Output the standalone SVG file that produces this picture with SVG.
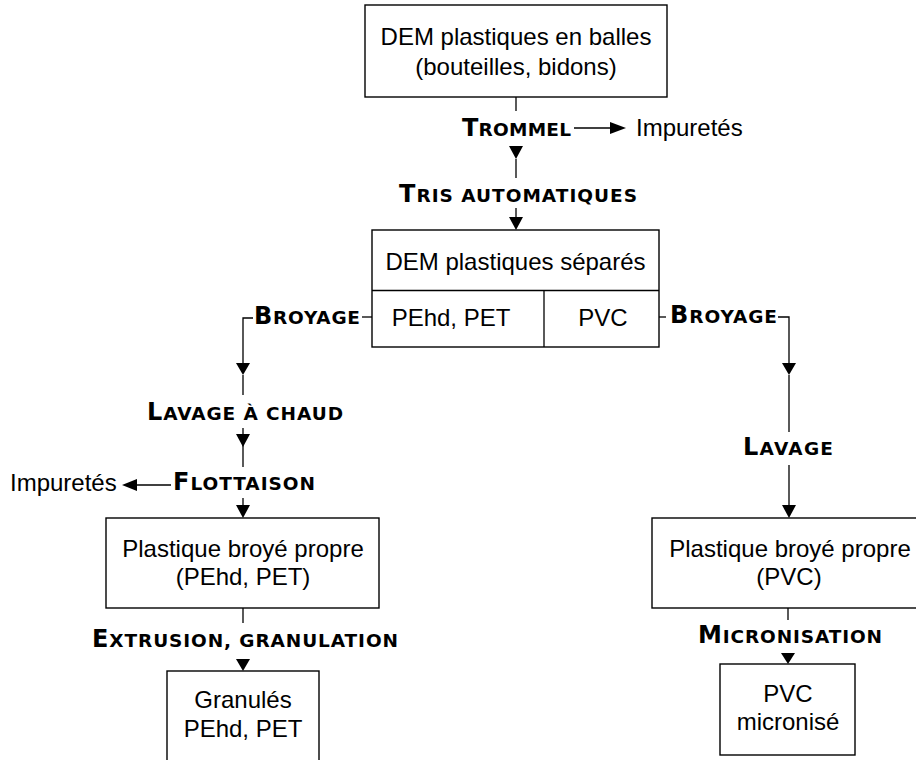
<svg xmlns="http://www.w3.org/2000/svg" width="916" height="760" viewBox="0 0 916 760">
<style>
.box{fill:#fff;stroke:#000;stroke-width:1.4}
.ln{fill:none;stroke:#000;stroke-width:1.3}
.ah{fill:#000;stroke:none}
.t{font-family:"Liberation Sans",Arial,sans-serif;font-size:24px;fill:#000;text-anchor:middle}
.ti{font-family:"Liberation Sans",Arial,sans-serif;font-size:24px;fill:#000}
.lb{font-family:"DejaVu Sans","Liberation Sans",sans-serif;font-weight:bold;fill:#000;font-size:18.5px}
.cap{font-size:24px}
</style>
<rect width="916" height="760" fill="#fff"/>
<g id="connectors">
  <line class="ln" x1="516" y1="97" x2="516" y2="111"/>
  <line class="ln" x1="574" y1="128" x2="612" y2="128"/>
  <polygon class="ah" points="610,122 610,134 626,128"/>
  <polygon class="ah" points="509,146 523,146 516,159"/>
  <line class="ln" x1="516" y1="159" x2="516" y2="178"/>
  <line class="ln" x1="516" y1="208" x2="516" y2="220"/>
  <polygon class="ah" points="509,217 523,217 516,230"/>
  <line class="ln" x1="372" y1="317" x2="362" y2="317"/>
  <polyline class="ln" points="253,318 243,318 243,365"/>
  <polygon class="ah" points="236,363 250,363 243,375"/>
  <line class="ln" x1="243" y1="375" x2="243" y2="395"/>
  <line class="ln" x1="243" y1="428" x2="243" y2="467"/>
  <polygon class="ah" points="236,434 250,434 243,447"/>
  <line class="ln" x1="171" y1="485" x2="135" y2="485"/>
  <polygon class="ah" points="137,479 137,491 122,485"/>
  <line class="ln" x1="243" y1="498" x2="243" y2="510"/>
  <polygon class="ah" points="236,505 250,505 243,518"/>
  <line class="ln" x1="243" y1="608" x2="243" y2="623"/>
  <polygon class="ah" points="236,659 250,659 243,671"/>
  <line class="ln" x1="659" y1="317" x2="666" y2="317"/>
  <polyline class="ln" points="778,317 789,317 789,365"/>
  <polygon class="ah" points="782,363 796,363 789,375"/>
  <line class="ln" x1="789" y1="375" x2="789" y2="432"/>
  <line class="ln" x1="789" y1="465" x2="789" y2="508"/>
  <polygon class="ah" points="782,505 796,505 789,518"/>
  <line class="ln" x1="788" y1="608" x2="788" y2="620"/>
  <polygon class="ah" points="781,653 795,653 788,664"/>
  <text class="lb" x="462" y="136" textLength="109" lengthAdjust="spacing"><tspan class="cap">T</tspan>ROMMEL</text>
  <text class="lb" x="399" y="202" textLength="238" lengthAdjust="spacing"><tspan class="cap">T</tspan>RIS AUTOMATIQUES</text>
  <text class="lb" x="254" y="324" textLength="106" lengthAdjust="spacing"><tspan class="cap">B</tspan>ROYAGE</text>
  <text class="lb" x="670" y="323" textLength="107" lengthAdjust="spacing"><tspan class="cap">B</tspan>ROYAGE</text>
  <text class="lb" x="147" y="420" textLength="196" lengthAdjust="spacing"><tspan class="cap">L</tspan>AVAGE À CHAUD</text>
  <text class="lb" x="173" y="490" textLength="142" lengthAdjust="spacing"><tspan class="cap">F</tspan>LOTTAISON</text>
  <text class="lb" x="92" y="647" textLength="306" lengthAdjust="spacing"><tspan class="cap">E</tspan>XTRUSION, GRANULATION</text>
  <text class="lb" x="743" y="455" textLength="90" lengthAdjust="spacing"><tspan class="cap">L</tspan>AVAGE</text>
  <text class="lb" x="698" y="643" textLength="184" lengthAdjust="spacing"><tspan class="cap">M</tspan>ICRONISATION</text>
</g>
<g id="n_dem_balles">
  <rect class="box" x="365" y="5" width="302" height="92"/>
  <text class="t" x="516" y="45">DEM plastiques en balles</text>
  <text class="t" x="516" y="75">(bouteilles, bidons)</text>
</g>
<g id="n_impuretes1">
  <text class="ti" x="636" y="136">Impuretés</text>
</g>
<g id="n_dem_separes">
  <rect class="box" x="372" y="230" width="287" height="117"/>
  <line class="ln" x1="372" y1="290.5" x2="659" y2="290.5"/>
  <line class="ln" x1="544" y1="290.5" x2="544" y2="347"/>
  <text class="t" x="515.5" y="270">DEM plastiques séparés</text>
  <text class="t" x="451" y="326">PEhd, PET</text>
  <text class="t" x="603" y="326">PVC</text>
</g>
<g id="n_impuretes2">
  <text class="ti" x="10" y="491">Impuretés</text>
</g>
<g id="n_broye_pehd">
  <rect class="box" x="106" y="518" width="273" height="90"/>
  <text class="t" x="243" y="557">Plastique broyé propre</text>
  <text class="t" x="243" y="585">(PEhd, PET)</text>
</g>
<g id="n_granules">
  <rect class="box" x="167" y="671" width="152" height="95"/>
  <text class="t" x="243" y="708">Granulés</text>
  <text class="t" x="243" y="737">PEhd, PET</text>
</g>
<g id="n_broye_pvc">
  <rect class="box" x="652" y="518" width="290" height="90"/>
  <text class="t" x="790" y="557">Plastique broyé propre</text>
  <text class="t" x="789" y="585">(PVC)</text>
</g>
<g id="n_pvc_micronise">
  <rect class="box" x="720" y="664" width="135" height="91"/>
  <text class="t" x="788" y="702">PVC</text>
  <text class="t" x="788" y="730">micronisé</text>
</g>
</svg>
